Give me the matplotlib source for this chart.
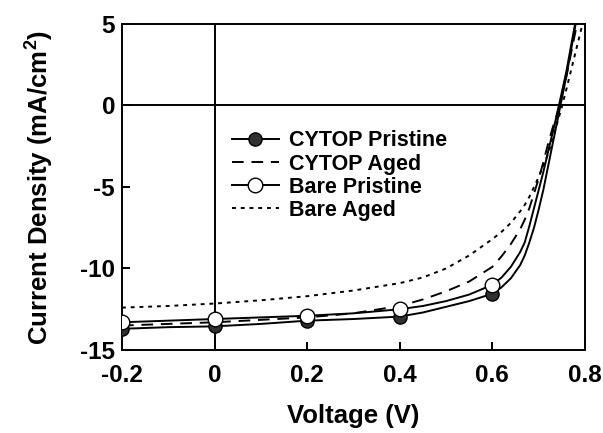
import numpy as np
import matplotlib.pyplot as plt
from matplotlib.lines import Line2D

plt.rcParams['font.family'] = ['Liberation Sans', 'DejaVu Sans']
plt.rcParams['font.weight'] = 'bold'
plt.rcParams['axes.unicode_minus'] = False
plt.rcParams['mathtext.fontset'] = 'custom'
plt.rcParams['mathtext.bf'] = 'Liberation Sans:bold'

# Voltaje (V)
voltage = [-0.2, -0.1, 0.0, 0.1, 0.2, 0.3, 0.4, 0.45, 0.5, 0.55, 0.6,
           0.62, 0.64, 0.66, 0.67, 0.68, 0.69, 0.7, 0.71, 0.72, 0.73, 0.74, 0.75, 0.76, 0.78, 0.8]

# Densidad de corriente (mA/cm^2)
cytop_pristine = [-13.7, -13.6, -13.55, -13.4, -13.2, -13.1, -12.95, -12.7, -12.35, -12.0, -11.55,
                  -11.15, -10.6, -9.8, -9.2, -8.4, -7.5, -6.4, -5.2, -3.8, -2.4, -1.0, 0.4, 1.8, 5.0, 8.5]
cytop_aged = [-13.5, -13.4, -13.3, -13.15, -13.0, -12.75, -12.3, -11.9, -11.4, -10.8, -9.9,
              -9.25, -8.5, -7.6, -7.0, -6.3, -5.4, -4.5, -3.5, -2.4, -1.4, -0.5, 0.6, 1.8, 4.6, 7.5]
bare_pristine = [-13.3, -13.2, -13.1, -13.0, -12.9, -12.75, -12.5, -12.3, -12.0, -11.6, -11.0,
                 -10.55, -9.9, -9.0, -8.4, -7.4, -6.3, -5.2, -4.1, -2.9, -1.7, -0.5, 0.8, 2.1, 5.2, 8.5]
bare_aged = [-12.4, -12.3, -12.15, -11.95, -11.7, -11.35, -10.9, -10.55, -10.0, -9.2, -8.2,
             -7.75, -7.2, -6.5, -6.1, -5.6, -5.0, -4.4, -3.7, -3.0, -2.1, -1.1, -0.1, 1.0, 3.3, 5.6]

# Marcadores
marker_v = [-0.2, 0.0, 0.2, 0.4, 0.6]
cytop_pristine_mk = [-13.7, -13.55, -13.2, -12.95, -11.55]
bare_pristine_mk = [-13.3, -13.1, -12.9, -12.5, -11.0]

fig = plt.figure(figsize=(6.03, 4.33), dpi=100)
ax = fig.add_axes([0.2023, 0.1917, 0.7677, 0.7529])

ax.axhline(0, color='black', lw=1.4, zorder=1)
ax.axvline(0, color='black', lw=1.4, zorder=1)

ax.plot(voltage, cytop_pristine, color='black', lw=1.4, zorder=3)
ax.plot(voltage, cytop_aged, color='black', lw=1.4, ls=(0, (6, 4)), zorder=3)
ax.plot(voltage, bare_pristine, color='black', lw=1.4, zorder=3)
ax.plot(voltage, bare_aged, color='black', lw=1.4, ls=(0, (2, 2.5)), zorder=3)

ax.plot(marker_v, cytop_pristine_mk, ls='none', marker='o', ms=9.5,
        mfc='#303030', mec='black', mew=1.0, zorder=4)
ax.plot(marker_v, bare_pristine_mk, ls='none', marker='o', ms=10.5,
        mfc='white', mec='black', mew=1.0, zorder=5)

ax.set_xlim(-0.2, 0.8)
ax.set_ylim(-15, 5)
ax.set_xticks([-0.2, 0, 0.2, 0.4, 0.6, 0.8])
ax.set_xticklabels(['-0.2', '0', '0.2', '0.4', '0.6', '0.8'])
ax.set_yticks([-15, -10, -5, 0, 5])
ax.tick_params(direction='in', length=6, width=1.4, labelsize=17.5)
ax.tick_params(axis='x', pad=10)
ax.tick_params(axis='y', pad=5)
for s in ax.spines.values():
    s.set_linewidth(1.4)

ax.set_xlabel('Voltage (V)', fontsize=18.5, fontweight='bold')
ax.xaxis.set_label_coords(0.5, -0.165)
ax.set_ylabel('Current Density (mA/cm$^\\mathbf{2}$)', fontsize=18.5, fontweight='bold')
ax.yaxis.set_label_coords(-0.145, 0.5)

handles = [
    Line2D([], [], color='black', lw=1.4, marker='o', ms=9.5, mfc='#303030', mec='black'),
    Line2D([], [], color='black', lw=1.4, ls=(0, (6, 4))),
    Line2D([], [], color='black', lw=1.4, marker='o', ms=10.5, mfc='white', mec='black'),
    Line2D([], [], color='black', lw=1.4, ls=(0, (2, 2.5))),
]
labels = ['CYTOP Pristine', 'CYTOP Aged', 'Bare Pristine', 'Bare Aged']
ax.legend(handles, labels, loc='upper left', bbox_to_anchor=(0.218, 0.70), frameon=False,
          prop={'size': 15.5, 'weight': 'bold'}, handlelength=2.2, labelspacing=0.1,
          handletextpad=0.45, borderaxespad=0)

fig.savefig('out.png', dpi=100)
